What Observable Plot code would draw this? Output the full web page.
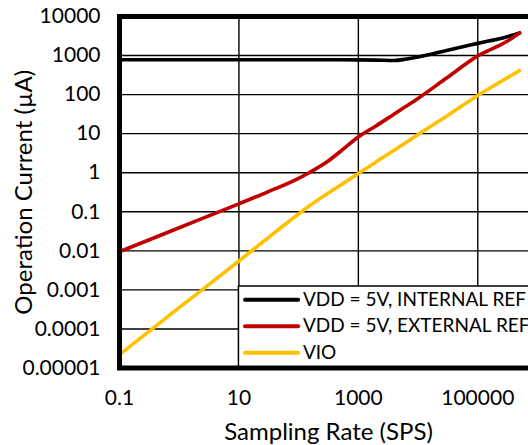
<!DOCTYPE html>
<html><head><meta charset="utf-8">
<script src="https://cdn.jsdelivr.net/npm/d3@7"></script>
<script src="https://cdn.jsdelivr.net/npm/@observablehq/plot@0.6"></script>
<style>
html,body{margin:0;padding:0;background:#fff;overflow:hidden;}
</style>
</head><body><div id="chart"></div>
<script>
// Sampling rates (SPS) at which the curves were read
const rates = [0.1, 1, 10, 30, 100, 150, 300, 500, 1000, 2000, 4000, 6000, 10000, 30000, 100000, 300000, 500000];
// Operation current (µA)
const internalRef = [780, 780, 780, 780, 780, 780, 780, 780, 775, 765, 750, 800, 920, 1350, 2050, 3000, 3800];
const externalRef = [0.0095, 0.039, 0.16, 0.32, 0.72, 1.0, 1.9, 3.5, 8.2, 16, 32, 48, 80, 265, 980, 2250, 3800];
const vio = [0.000022, 0.00035, 0.0055, 0.021, 0.088, 0.14, 0.29, 0.48, 0.95, 1.9, 3.8, 5.7, 9.5, 28, 95, 260, 410];

const seriesNames = ["VDD = 5V, INTERNAL REF", "VDD = 5V, EXTERNAL REF", "VIO"];
const seriesColors = ["#000000", "#C00000", "#FFC000"];

const xTicks = [0.1, 10, 1000, 100000];
const xTickLabels = ["0.1", "10", "1000", "100000"];
const yTicks = [0.00001, 0.0001, 0.001, 0.01, 0.1, 1, 10, 100, 1000, 10000];
const yTickLabels = ["0.00001", "0.0001", "0.001", "0.01", "0.1", "1", "10", "100", "1000", "10000"];

const xLabel = "Sampling Rate (SPS)";
const yLabel = "Operation Current (µA)";

const allSeries = [internalRef, externalRef, vio];
const data = [];
allSeries.forEach((vals, i) => vals.forEach((v, j) => data.push({series: seriesNames[i], rate: rates[j], current: v})));

// legend rows (placed in the lower-right box of the plot)
const legendRows = seriesNames.map((name, i) => ({name, color: seriesColors[i], y: Math.pow(10, -3.25 - 0.68 * i)}));

const font = "Lato, 'DejaVu Sans', sans-serif";

const chart = Plot.plot({
  width: 528,
  height: 445,
  marginLeft: 119,
  marginTop: 16,
  marginBottom: 77.5,
  marginRight: -9,
  style: {fontFamily: font, fontSize: "21px", color: "#000", background: "#fff", overflow: "visible"},
  x: {type: "log", domain: [0.1, 1e6]},
  y: {type: "log", domain: [1e-5, 1e4]},
  color: {domain: seriesNames, range: seriesColors},
  marks: [
    Plot.ruleY(yTicks, {stroke: "#000", strokeWidth: 1.4}),
    Plot.ruleX(xTicks.slice(1), {stroke: "#000", strokeWidth: 1.4}),
    Plot.line(data, {x: "rate", y: "current", z: "series", stroke: "series", strokeWidth: 3.6, curve: "monotone-x"}),
    // legend box
    Plot.rect([0], {x1: 10, x2: 1e6, y1: 1e-5, y2: 0.00122, fill: "#fff", stroke: "#000", strokeWidth: 1.5}),
    Plot.ruleY(legendRows, {x1: 12.9, x2: 100, y: "y", stroke: "color", strokeWidth: 4, strokeLinecap: "round"}),
    Plot.text(legendRows, {x: 118, y: "y", text: "name", textAnchor: "start", fill: "#000", fontSize: 19}),
    // frame
    Plot.frame({stroke: "#000", strokeWidth: 5}),
    Plot.axisX(xTicks, {tickSize: 0, tickPadding: 22, tickFormat: (d) => xTickLabels[xTicks.indexOf(d)], label: null, fontSize: 21}),
    Plot.axisY(yTicks, {tickSize: 0, tickPadding: 19, tickFormat: (d) => yTickLabels[yTicks.indexOf(d)], label: null, fontSize: 21}),
    Plot.text([xLabel], {frameAnchor: "bottom", textAnchor: "middle", lineAnchor: "middle", dy: 64, text: d => d, fontSize: 24, fill: "#000"}),
    Plot.text([yLabel], {frameAnchor: "left", textAnchor: "middle", lineAnchor: "middle", dx: -95.5, rotate: -90, text: d => d, fontSize: 24, fill: "#000"})
  ]
});
document.getElementById("chart").appendChild(chart);
</script>
</body></html>
